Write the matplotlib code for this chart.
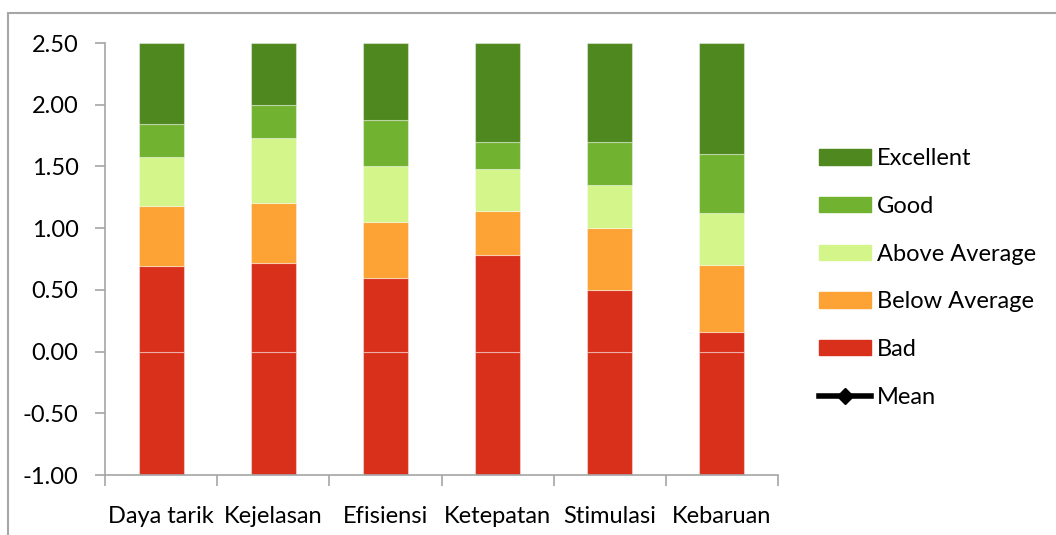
import numpy as np
import matplotlib.pyplot as plt
from matplotlib.patches import Patch, Rectangle
from matplotlib.lines import Line2D

plt.rcParams['font.family'] = ['Lato', 'DejaVu Sans']

# UEQ benchmark borders per scale
scales = ['Daya tarik', 'Kejelasan', 'Efisiensi', 'Ketepatan', 'Stimulasi', 'Kebaruan']
lower = -1.0
upper = 2.5
bad = [0.69, 0.72, 0.60, 0.78, 0.50, 0.16]
below_avg = [1.18, 1.20, 1.05, 1.14, 1.00, 0.70]
above_avg = [1.58, 1.73, 1.50, 1.48, 1.35, 1.12]
good = [1.84, 2.00, 1.88, 1.70, 1.70, 1.60]

names = ['Bad', 'Below Average', 'Above Average', 'Good', 'Excellent']
colors = ['#D9301C', '#FDA234', '#D3F58A', '#72B231', '#4E881E']

fig = plt.figure(figsize=(10.56, 5.35), dpi=100)
ax = fig.add_axes([105/1056, 60/535, 673/1056, 432/535])

x = np.arange(len(scales))
w = 0.4
tops = [bad, below_avg, above_avg, good, [upper]*len(scales)]
prev = np.zeros(len(scales))
# Bad part below zero drawn separately like Excel does
ax.bar(x, [lower]*len(scales), w, bottom=0, color=colors[0], edgecolor=(1, 1, 1, 0.4), lw=0.8)
for top, c in zip(tops, colors):
    top = np.array(top)
    ax.bar(x, top - prev, w, bottom=prev, color=c, edgecolor=(1, 1, 1, 0.4), lw=0.8)
    prev = top

fs = 17
ax.set_xlim(-0.5, len(scales) - 0.5)
ax.set_ylim(lower, upper)
ax.set_yticks(np.arange(-1, 2.51, 0.5))
ax.set_yticklabels(['%.2f' % v for v in np.arange(-1, 2.51, 0.5)])
ax.set_xticks(x)
ax.set_xticklabels(scales)
ax.set_xticks(np.arange(-0.5, len(scales)), minor=True)
ax.tick_params(axis='x', which='major', length=0, pad=22, labelsize=fs)
ax.tick_params(axis='x', which='minor', length=8, color='#A6A6A6', width=1.2)
ax.tick_params(axis='y', length=7, color='#A6A6A6', width=1.2, pad=12, labelsize=fs)
for s in ['top', 'right']:
    ax.spines[s].set_visible(False)
for s in ['left', 'bottom']:
    ax.spines[s].set_color('#A6A6A6')
    ax.spines[s].set_linewidth(1.2)

handles = [Patch(color=c) for c in colors[::-1]]
handles.append(Line2D([], [], color='black', lw=4, marker='D', markersize=8))
labels = names[::-1] + ['Mean']
fig.legend(handles, labels, loc='upper left', bbox_to_anchor=(798/1056, 1 - 127/535),
           frameon=False, fontsize=fs, handlelength=2.2, handleheight=0.64,
           handletextpad=0.25, labelspacing=1.13)

# outer chart frame
fig.patches.append(Rectangle((8/1056, -0.1), 1.2, 1 - 13/535 + 0.1, transform=fig.transFigure,
                             fill=False, edgecolor='#A6A6A6', lw=1.5, clip_on=False))

fig.savefig('out.png', dpi=100)
